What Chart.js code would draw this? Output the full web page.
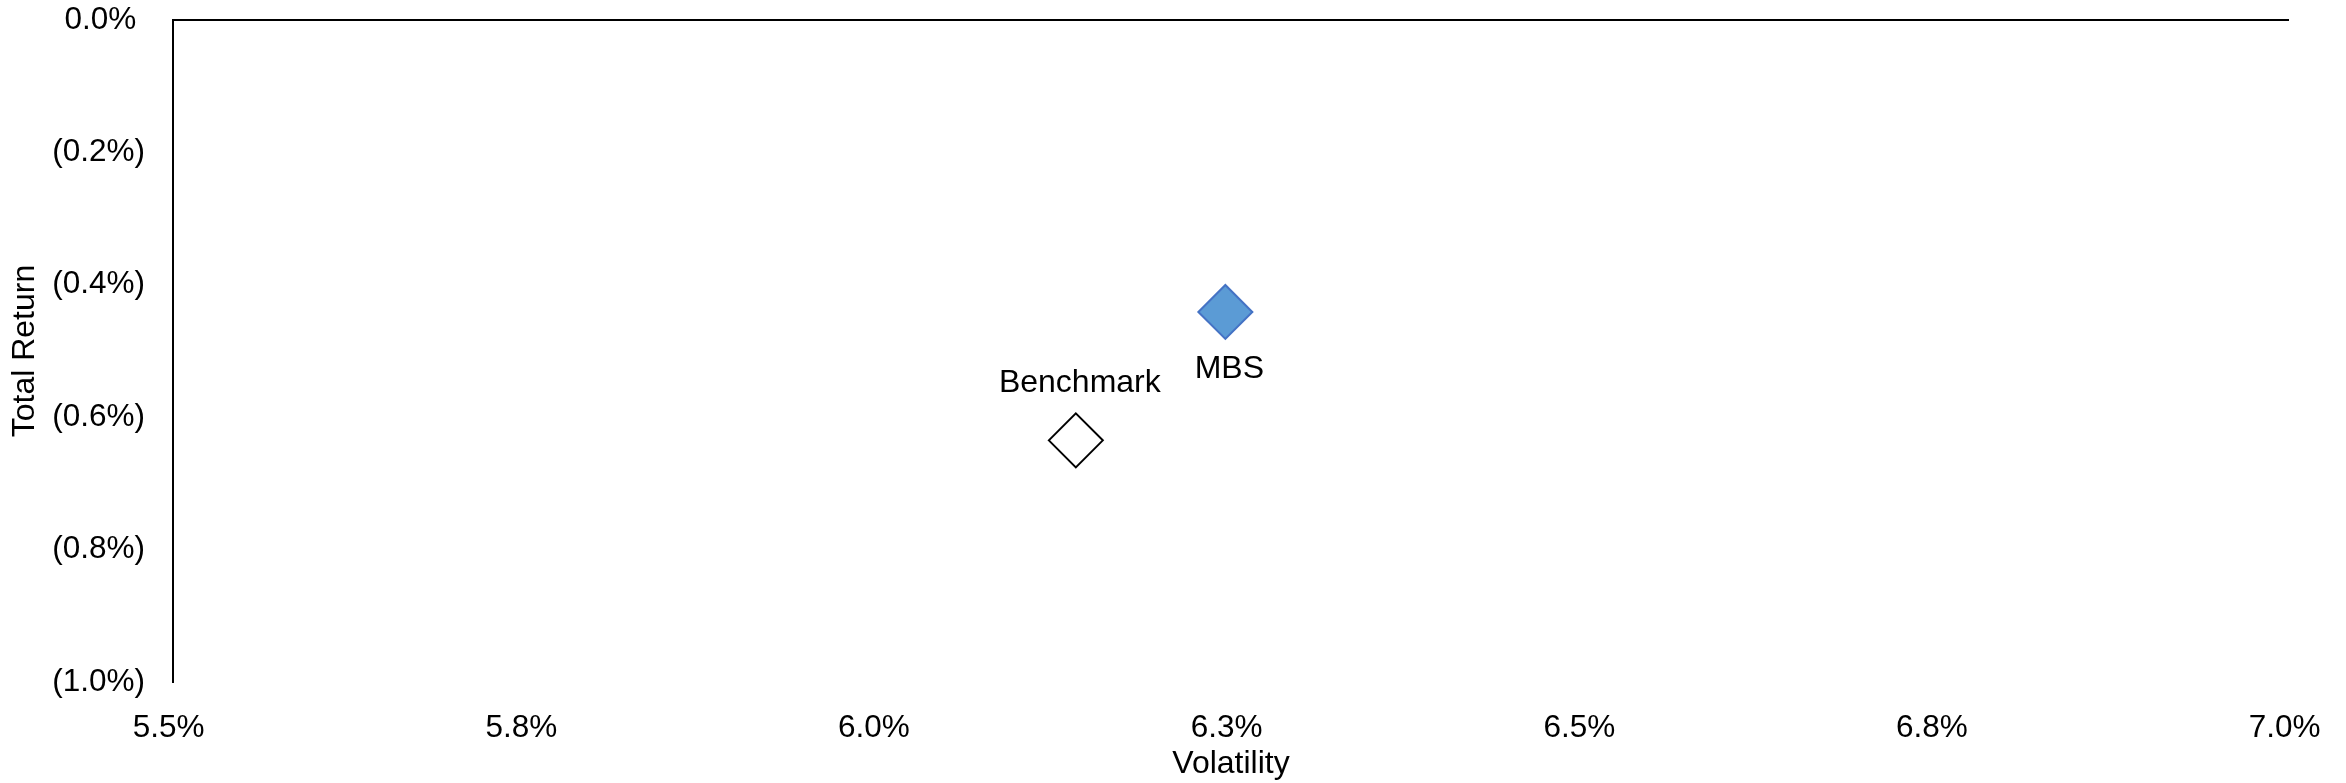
<!DOCTYPE html>
<html lang="en">
<head>
  <meta charset="UTF-8">
  <title>Total Return vs Volatility</title>
  <script src="https://cdn.jsdelivr.net/npm/chart.js"></script>
  <style>
    html, body { margin: 0; padding: 0; background: #fff; }
    #wrap { width: 2346px; height: 783px; }
  </style>
</head>
<body>
  <div id="wrap"><canvas id="riskChart"></canvas></div>

  <script>
    // Series data (volatility and total return in %)
    const seriesNames = ['Benchmark', 'MBS'];
    const volatility = [6.14, 6.246];
    const totalReturn = [-0.635, -0.441];

    // Axis tick labels, low to high
    const xTickLabels = ['5.5%', '5.8%', '6.0%', '6.3%', '6.5%', '6.8%', '7.0%'];
    const yTickLabels = ['(1.0%)', '(0.8%)', '(0.6%)', '(0.4%)', '(0.2%)', '0.0%'];

    const FONT = "'Liberation Sans', Arial, sans-serif";

    // positive numbers get a trailing pad, like the spreadsheet format 0.0%_);(0.0%)
    function padLabel(s) {
      return s && s.charAt(0) !== '(' ? s + ' ' : s;
    }

    // name tag next to each point: Benchmark above, MBS below
    const pointNames = {
      id: 'pointNames',
      afterDatasetsDraw(chart) {
        const ctx = chart.ctx;
        ctx.save();
        ctx.font = '32px ' + FONT;
        ctx.fillStyle = '#000';
        ctx.textAlign = 'center';
        ctx.textBaseline = 'middle';
        chart.data.datasets.forEach((ds, i) => {
          const pt = chart.getDatasetMeta(i).data[0];
          if (!pt) return;
          const dy = ds.label === 'MBS' ? 57 : -57;
          ctx.fillText(ds.label, pt.x + 4, pt.y + dy);
        });
        ctx.restore();
      }
    };

    // keep the plot area fixed: no extra room reserved for edge labels
    function noEdgePadding(scale) {
      scale.paddingTop = 0;
      scale.paddingBottom = 0;
      scale.paddingLeft = 0;
      scale.paddingRight = 0;
    }

    const datasets = seriesNames.map((name, i) => ({
      label: name,
      data: [{ x: volatility[i], y: totalReturn[i] }],
      pointStyle: 'rectRot',
      pointRadius: 27,
      pointHoverRadius: 27,
      borderWidth: 2,
      backgroundColor: name === 'MBS' ? '#5b9bd5' : '#ffffff',
      borderColor: name === 'MBS' ? '#4472c4' : '#000000'
    }));

    const ctx = document.getElementById('riskChart').getContext('2d');
    new Chart(ctx, {
      type: 'scatter',
      data: { datasets: datasets },
      plugins: [pointNames],
      options: {
        responsive: true,
        maintainAspectRatio: false,
        animation: false,
        layout: {
          autoPadding: false,
          padding: { top: 20, right: 57, bottom: 0, left: 0 }
        },
        plugins: {
          legend: { display: false },
          tooltip: { enabled: false }
        },
        scales: {
          x: {
            type: 'linear',
            min: 5.5,
            max: 7.0,
            ticks: {
              stepSize: 0.25,
              padding: 19,
              color: '#000',
              font: { family: FONT, size: 31.5 },
              callback: (v, i) => padLabel(xTickLabels[i])
            },
            grid: { display: false },
            border: { display: false },
            title: {
              display: true,
              text: 'Volatility',
              color: '#000',
              font: { family: FONT, size: 32 },
              padding: { top: 0, bottom: 0 }
            },
            afterFit(scale) {
              scale.height = 101;
              noEdgePadding(scale);
            }
          },
          y: {
            type: 'linear',
            min: -1.0,
            max: 0,
            ticks: {
              stepSize: 0.2,
              padding: 28,
              color: '#000',
              font: { family: FONT, size: 31.5 },
              callback: (v, i) => padLabel(yTickLabels[i])
            },
            // only the zero line is drawn, as the horizontal axis
            grid: {
              drawTicks: false,
              color: c => (c.tick && Math.abs(c.tick.value) < 1e-9) ? '#000' : 'rgba(0,0,0,0)',
              lineWidth: 2
            },
            border: { display: true, color: '#000', width: 2 },
            title: {
              display: true,
              text: 'Total Return',
              color: '#000',
              font: { family: FONT, size: 32 },
              padding: { top: 6, bottom: 0 }
            },
            afterFit(scale) {
              scale.width = 173;
              noEdgePadding(scale);
            }
          }
        }
      }
    });
  </script>
</body>
</html>
